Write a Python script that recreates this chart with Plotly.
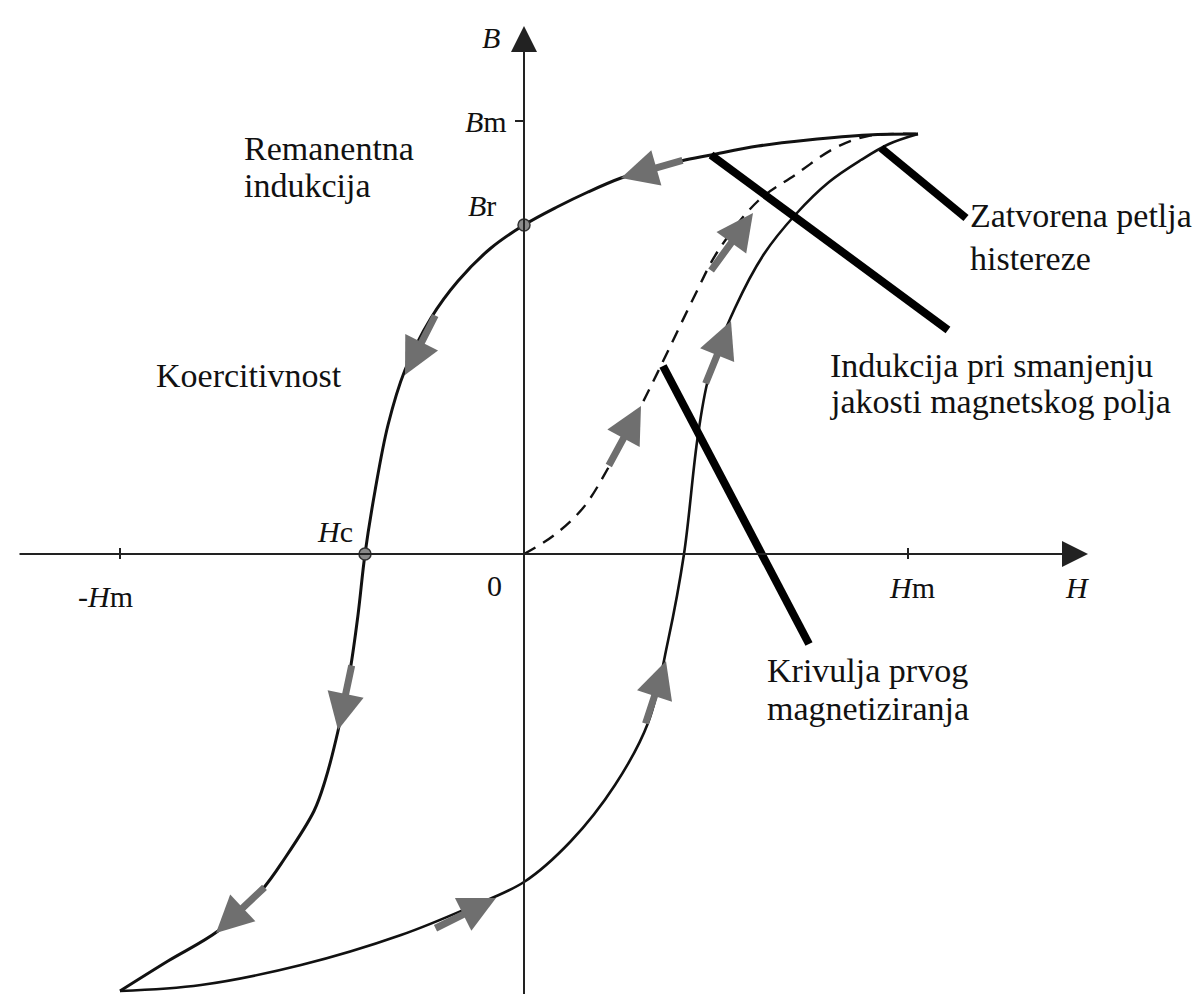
import plotly.graph_objects as go

# values (arbitrary units, origin at H=0, B=0)
upper_h = [394, 344, 284, 234, 187, 157, 124, 97, 64, 33, 0, -33, -66, -93, -119, -136, -149, -159,
           -166, -174, -186, -199, -210, -239, -263, -306, -356, -404]
upper_b = [420, 419, 414, 408, 399, 393, 384, 376, 362, 347, 329, 306, 273, 236, 184, 129, 63, 0,
           -61, -117, -177, -227, -257, -304, -337, -377, -407, -437]

lower_h = [-404, -323, -223, -123, -56, 0, 47, 91, 124, 144, 160, 174, 186, 211, 240, 272, 305, 337, 365, 394]
lower_b = [-437, -431, -411, -381, -354, -328, -287, -231, -169, -87, 0, 119, 182, 246, 300, 340, 372, 394, 410, 420]

initial_h = [0, 29, 59, 87, 121, 144, 171, 194, 234, 271, 311, 344, 394]
initial_b = [0, 18, 46, 91, 156, 203, 259, 303, 353, 379, 406, 418, 420]

# direction arrows along the curves: tail -> head
arrow_tail_h = [160, -88, -172, -258, -90, 121, 181, 84, 186]
arrow_tail_b = [394, 240, -110, -332, -375, -171, 169, 87, 282]
arrow_head_h = [97, -119, -186, -308, -28, 142, 207, 117, 229]
arrow_head_b = [376, 179, -176, -379, -344, -107, 233, 148, 341]

# thick pointer lines to the captions
pointer_h0 = [187, 357, 139]
pointer_b0 = [399, 406, 188]
pointer_h1 = [424, 442, 285]
pointer_b1 = [224, 336, -90]

points_h = [0, -159]   # Br, Hc
points_b = [329, 0]

h_ticks = [-404, 384]  # -Hm, Hm
b_ticks = [433]        # Bm

fig = go.Figure()

curve = dict(color="#111", width=3, shape="spline", smoothing=1.0)
fig.add_trace(go.Scatter(x=upper_h, y=upper_b, mode="lines", line=curve, hoverinfo="skip"))
fig.add_trace(go.Scatter(x=lower_h, y=lower_b, mode="lines", line=dict(curve, width=2.6), hoverinfo="skip"))
fig.add_trace(go.Scatter(x=initial_h, y=initial_b, mode="lines",
                         line=dict(curve, width=2.4, dash="13px,9px"), hoverinfo="skip"))

for h0, b0, h1, b1 in zip(pointer_h0, pointer_b0, pointer_h1, pointer_b1):
    fig.add_trace(go.Scatter(x=[h0, h1], y=[b0, b1], mode="lines", line=dict(color="black", width=8),
                             hoverinfo="skip"))

fig.add_trace(go.Scatter(x=points_h, y=points_b, mode="markers",
                         marker=dict(size=12, color="#8a8a8a", line=dict(color="#333", width=1.5)),
                         hoverinfo="skip"))

# axes with arrows
axis_color = "#222"
fig.add_annotation(x=564, y=0, ax=-506, ay=0, xref="x", yref="y", axref="x", ayref="y", text="",
                   showarrow=True, arrowhead=2, arrowsize=2.6, arrowwidth=2, arrowcolor=axis_color, standoff=0)
fig.add_annotation(x=0, y=528, ax=0, ay=-448, xref="x", yref="y", axref="x", ayref="y", text="",
                   showarrow=True, arrowhead=2, arrowsize=2.6, arrowwidth=2, arrowcolor=axis_color, standoff=0)

for t in h_ticks:
    fig.add_shape(type="line", x0=t, x1=t, y0=-5, y1=6, line=dict(color=axis_color, width=2))
for t in b_ticks:
    fig.add_shape(type="line", x0=-9, x1=0, y0=t, y1=t, line=dict(color=axis_color, width=2))

for th, tb, hh, hb in zip(arrow_tail_h, arrow_tail_b, arrow_head_h, arrow_head_b):
    fig.add_annotation(x=hh, y=hb, ax=th, ay=tb, xref="x", yref="y", axref="x", ayref="y", text="",
                       showarrow=True, arrowhead=2, arrowsize=1.05, arrowwidth=7, arrowcolor="#6f6f6f",
                       standoff=0)

serif = "Liberation Serif"
sym = dict(family=serif, size=30, color="#111")
txt = dict(family=serif, size=34, color="#111")

symbols = [
    ("<i>B</i>", -33, 517),
    ("<i>B</i>m", -38, 433),
    ("<i>B</i>r", -42, 349),
    ("<i>H</i>c", -189, 23),
    ("-<i>H</i>m", -419, -42),
    ("0", -30, -31),
    ("<i>H</i>m", 388, -33),
    ("<i>H</i>", 553, -33),
]
for s, x, y in symbols:
    fig.add_annotation(x=x, y=y, text=s, showarrow=False, font=sym, xanchor="center", yanchor="middle")

captions = [
    ("Remanentna", -282, 406),
    ("indukcija", -282, 369),
    ("Koercitivnost", -370, 179),
    ("Zatvorena petlja", 444, 339),
    ("histereze", 444, 296),
    ("Indukcija pri smanjenju", 304, 189),
    ("jakosti magnetskog polja", 304, 153),
    ("Krivulja prvog", 241, -116),
    ("magnetiziranja", 241, -154),
]
for s, x, y in captions:
    fig.add_annotation(x=x, y=y, text=s, showarrow=False, font=txt, xanchor="left", yanchor="middle")

fig.update_layout(
    width=1202,
    height=994,
    margin=dict(l=0, r=0, t=0, b=0),
    plot_bgcolor="white",
    paper_bgcolor="white",
    showlegend=False
)
fig.update_xaxes(visible=False, range=[-516, 686])
fig.update_yaxes(visible=False, range=[-448, 546])

fig.write_html("out.html")
